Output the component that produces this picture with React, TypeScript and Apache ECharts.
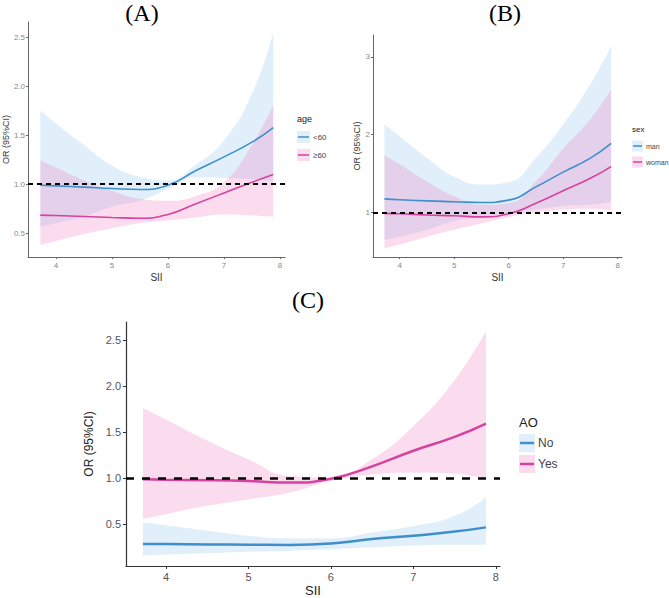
import React, { useEffect, useRef } from "react";
import * as echarts from "echarts";

// Shared SII positions where values were read
const SII = [3.72, 4, 4.5, 5, 5.5, 6, 6.5, 7, 7.5, 7.88];

// Panel A: age
const A_young_mid = [0.99, 0.983, 0.97, 0.956, 0.946, 0.99, 1.14, 1.28, 1.43, 1.58];
const A_young_hi = [1.755, 1.62, 1.4, 1.19, 1.075, 1.04, 1.2, 1.45, 1.925, 2.555];
const A_young_lo = [0.565, 0.6, 0.67, 0.77, 0.83, 0.95, 1.07, 1.06, 1.05, 1.03];
const A_old_mid = [0.684, 0.68, 0.67, 0.66, 0.652, 0.69, 0.8, 0.91, 1.02, 1.1];
const A_old_hi = [1.245, 1.17, 1.04, 0.93, 0.85, 0.83, 0.88, 1.02, 1.4, 1.81];
const A_old_lo = [0.38, 0.42, 0.49, 0.55, 0.6, 0.63, 0.66, 0.69, 0.68, 0.665];

// Panel B: sex
const B_man_mid = [1.176, 1.165, 1.15, 1.14, 1.13, 1.16, 1.33, 1.52, 1.7, 1.89];
const B_man_hi = [2.13, 1.98, 1.7, 1.46, 1.36, 1.39, 1.7, 2.13, 2.65, 3.14];
const B_man_lo = [0.65, 0.69, 0.78, 0.89, 0.94, 0.985, 1.04, 1.085, 1.1, 1.14];
const B_woman_mid = [0.99, 0.985, 0.97, 0.96, 0.945, 0.985, 1.12, 1.28, 1.44, 1.59];
const B_woman_hi = [1.74, 1.62, 1.4, 1.21, 1.1, 1.12, 1.4, 1.82, 2.2, 2.58];
const B_woman_lo = [0.54, 0.59, 0.69, 0.78, 0.86, 0.94, 1.0, 1.04, 1.05, 1.03];

// Panel C: AO
const C_no_mid = [0.285, 0.284, 0.281, 0.278, 0.274, 0.29, 0.34, 0.375, 0.42, 0.466];
const C_no_hi = [0.52, 0.49, 0.43, 0.375, 0.346, 0.346, 0.41, 0.48, 0.59, 0.79];
const C_no_lo = [0.16, 0.17, 0.184, 0.2, 0.213, 0.23, 0.25, 0.27, 0.278, 0.278];
const C_yes_mid = [0.99, 0.985, 0.98, 0.97, 0.953, 0.995, 1.13, 1.3, 1.45, 1.595];
const C_yes_hi = [1.765, 1.64, 1.41, 1.205, 1.025, 1.007, 1.21, 1.57, 2.07, 2.6];
const C_yes_lo = [0.56, 0.61, 0.7, 0.77, 0.845, 0.97, 1.04, 1.06, 1.05, 0.99];

// Tick labels
const X_TICKS = [4, 5, 6, 7, 8];
const A_Y_TICKS = [0.5, 1.0, 1.5, 2.0, 2.5];
const B_Y_TICKS = [1, 2, 3];
const C_Y_TICKS = [0.5, 1.0, 1.5, 2.0, 2.5];

const BLUE = "#3E8FCC";
const PINK = "#D6429E";
const BLUE_BAND = "rgba(160, 205, 238, 0.32)";
const PINK_BAND = "rgba(242, 130, 196, 0.28)";

const FONT = "Liberation Sans";
const SMOOTH = 0.5;

type Group = { name: string; mid: number[]; hi: number[]; lo: number[]; line: string; band: string };

// [y, x] order so that the stacked dimension is the y value
const pairYX = (ys: number[]) => SII.map((x, i) => [ys[i], x]);

function panelSeries(g: number, groups: Group[], width: number, dash: number[], dashW: number) {
  const out: any[] = [];
  groups.forEach((gr, k) => {
    const st = "band" + g + "_" + k;
    out.push({
      type: "line", xAxisIndex: g, yAxisIndex: g, stack: st, data: pairYX(gr.lo),
      encode: { x: 1, y: 0 },
      symbol: "none", smooth: SMOOTH, lineStyle: { opacity: 0, width: 0 }, silent: true, z: 1,
    });
    out.push({
      type: "line", xAxisIndex: g, yAxisIndex: g, stack: st,
      data: pairYX(gr.hi.map((v, i) => v - gr.lo[i])),
      encode: { x: 1, y: 0 },
      symbol: "none", smooth: SMOOTH, lineStyle: { opacity: 0, width: 0 },
      areaStyle: { color: gr.band, opacity: 1 }, silent: true, z: 1,
    });
  });
  groups.forEach((gr, k) => {
    const s: any = {
      type: "line", name: gr.name, xAxisIndex: g, yAxisIndex: g, data: pairYX(gr.mid),
      encode: { x: 1, y: 0 },
      symbol: "none", smooth: SMOOTH, lineStyle: { color: gr.line, width }, itemStyle: { color: gr.line }, z: 3,
    };
    if (k === groups.length - 1) {
      s.markLine = {
        silent: true, symbol: ["none", "none"], label: { show: false }, z: 5,
        lineStyle: { color: "#000", type: dash, width: dashW },
        data: [{ yAxis: 1 }],
      };
    }
    out.push(s);
  });
  return out;
}

function xAxis(g: number, min: number, max: number, small: boolean, gap: number) {
  return {
    type: "value", gridIndex: g, min, max, name: "SII", nameLocation: "middle", nameGap: gap,
    nameTextStyle: { fontSize: small ? 10 : 13, color: small ? "#333" : "#222", fontFamily: FONT },
    splitLine: { show: false },
    axisLine: { lineStyle: { color: small ? "#666" : "#333", width: small ? 1 : 1.2 } },
    axisTick: { length: small ? 2 : 3, lineStyle: { color: small ? "#666" : "#333" }, customValues: X_TICKS },
    axisLabel: { fontSize: small ? 8 : 11, color: small ? "#888" : "#555", margin: small ? 4 : 5, customValues: X_TICKS, fontFamily: FONT },
  };
}

function yAxis(g: number, min: number, max: number, ticks: number[], small: boolean, gap: number, dec: number) {
  return {
    type: "value", gridIndex: g, min, max, name: "OR (95%CI)", nameLocation: "middle", nameGap: gap,
    nameTextStyle: { fontSize: small ? 9 : 12, color: small ? "#333" : "#222", fontFamily: FONT },
    splitLine: { show: false },
    axisLine: { show: true, lineStyle: { color: small ? "#666" : "#333", width: small ? 1 : 1.2 } },
    axisTick: { show: true, length: small ? 2 : 3, lineStyle: { color: small ? "#666" : "#333" }, customValues: ticks },
    axisLabel: {
      fontSize: small ? 8 : 11, color: small ? "#888" : "#555", margin: small ? 3 : 5,
      customValues: ticks, fontFamily: FONT, formatter: (v: number) => v.toFixed(dec),
    },
  };
}

function legend(x: number, titleY: number, title: string, titleSize: number, items: { label: string; line: string; band: string; cy: number }[], kw: number, kh: number, fs: number, lw: number) {
  const els: any[] = [
    { type: "text", x, y: titleY, style: { text: title, fontSize: titleSize, fontFamily: FONT, fill: "#222", verticalAlign: "middle", align: "left" } },
  ];
  items.forEach((it) => {
    els.push({ type: "rect", shape: { x, y: it.cy - kh / 2, width: kw, height: kh }, style: { fill: it.band } });
    els.push({ type: "line", shape: { x1: x + 1, y1: it.cy, x2: x + kw - 1, y2: it.cy }, style: { stroke: it.line, lineWidth: lw } });
    els.push({ type: "text", x: x + kw + 3, y: it.cy, style: { text: it.label, fontSize: fs, fontFamily: FONT, fill: "#444", verticalAlign: "middle", align: "left" } });
  });
  return els;
}

export default function App() {
  const ref = useRef<HTMLDivElement>(null);
  useEffect(() => {
    if (!ref.current) return;
    const chart = echarts.init(ref.current, undefined, { renderer: "svg" });
    const series = [
      ...panelSeries(0, [
        { name: "<60", mid: A_young_mid, hi: A_young_hi, lo: A_young_lo, line: BLUE, band: BLUE_BAND },
        { name: "≥60", mid: A_old_mid, hi: A_old_hi, lo: A_old_lo, line: PINK, band: PINK_BAND },
      ], 1.6, [5, 4], 2),
      ...panelSeries(1, [
        { name: "man", mid: B_man_mid, hi: B_man_hi, lo: B_man_lo, line: BLUE, band: BLUE_BAND },
        { name: "woman", mid: B_woman_mid, hi: B_woman_hi, lo: B_woman_lo, line: PINK, band: PINK_BAND },
      ], 1.6, [5, 4], 2),
      ...panelSeries(2, [
        { name: "No", mid: C_no_mid, hi: C_no_hi, lo: C_no_lo, line: BLUE, band: BLUE_BAND },
        { name: "Yes", mid: C_yes_mid, hi: C_yes_hi, lo: C_yes_lo, line: PINK, band: PINK_BAND },
      ], 2.5, [8, 8], 2.6),
    ];
    const serif = "Liberation Serif";
    const graphic = [
      { type: "text", x: 142, y: 13, style: { text: "(A)", fontSize: 24, fontFamily: serif, fill: "#000", align: "center", verticalAlign: "middle" } },
      { type: "text", x: 505, y: 13, style: { text: "(B)", fontSize: 24, fontFamily: serif, fill: "#000", align: "center", verticalAlign: "middle" } },
      { type: "text", x: 308, y: 300, style: { text: "(C)", fontSize: 24, fontFamily: serif, fill: "#000", align: "center", verticalAlign: "middle" } },
      ...legend(297, 119, "age", 9, [
        { label: "<60", line: BLUE, band: BLUE_BAND, cy: 137 },
        { label: "≥60", line: PINK, band: PINK_BAND, cy: 155 },
      ], 13, 12, 8, 1.5),
      ...legend(632, 129, "sex", 8, [
        { label: "man", line: BLUE, band: BLUE_BAND, cy: 146 },
        { label: "woman", line: PINK, band: PINK_BAND, cy: 162 },
      ], 11, 11, 7, 1.5),
      ...legend(519, 422, "AO", 13, [
        { label: "No", line: BLUE, band: BLUE_BAND, cy: 443 },
        { label: "Yes", line: PINK, band: PINK_BAND, cy: 464 },
      ], 16, 18, 12, 2.5),
    ];
    chart.setOption({
      animation: false,
      textStyle: { fontFamily: FONT },
      grid: [
        { left: 22, top: 22, width: 263, height: 235 },
        { left: 373, top: 35, width: 249, height: 222 },
        { left: 126, top: 322, width: 374, height: 245 },
      ],
      xAxis: [
        xAxis(0, 3.5, 8.09, true, 15),
        xAxis(1, 3.51, 8.08, true, 15),
        xAxis(2, 3.515, 8.05, false, 18),
      ],
      yAxis: [
        yAxis(0, 0.255, 2.66, A_Y_TICKS, true, 8, 1),
        yAxis(1, 0.43, 3.28, B_Y_TICKS, true, 7, 0),
        yAxis(2, 0.046, 2.7, C_Y_TICKS, false, 17, 1),
      ],
      series,
      graphic,
    });
    return () => chart.dispose();
  }, []);
  return <div ref={ref} style={{ position: "absolute", left: 0, top: 0, width: 669, height: 598, background: "#fff" }} />;
}
